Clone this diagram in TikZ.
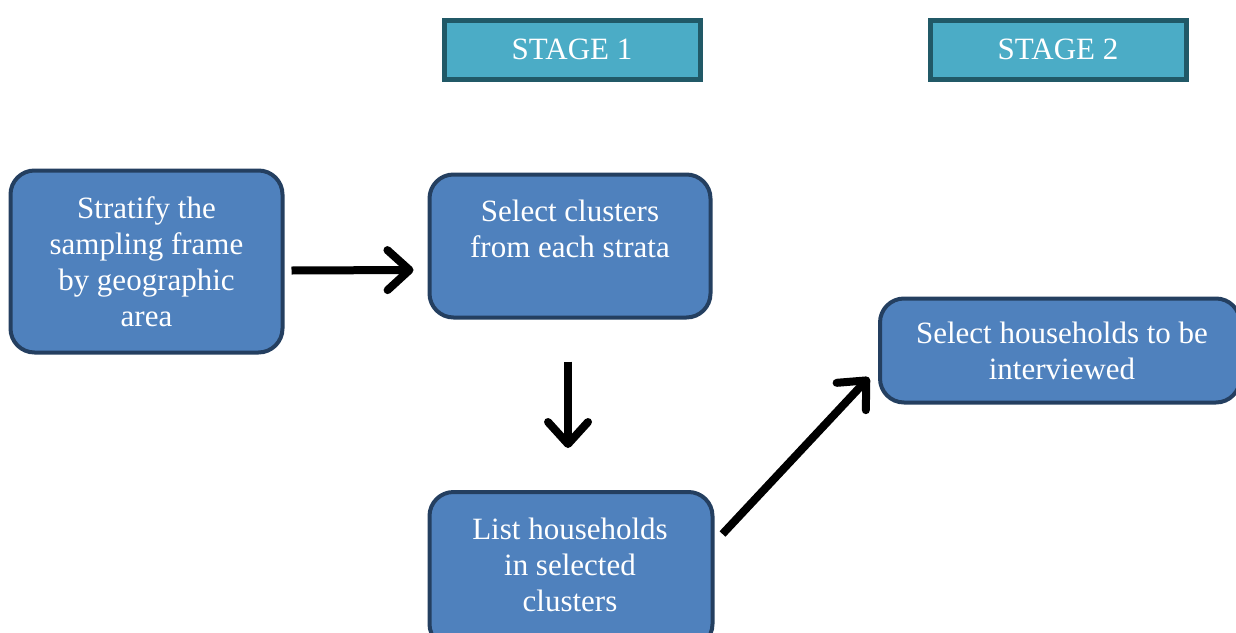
\documentclass[tikz,border=0pt]{standalone}
\usepackage{fontspec}
\setmainfont{Liberation Serif}
\usetikzlibrary{arrows.meta,calc}
\definecolor{boxfill}{HTML}{4F81BD}
\definecolor{boxline}{HTML}{243F60}
\definecolor{stagefill}{HTML}{4BACC6}
\definecolor{stageline}{HTML}{215967}
\tikzset{
  procbox/.style={draw=boxline, fill=boxfill, line width=4pt, rounded corners=24pt, inner sep=0pt},
  stagebox/.style={draw=stageline, fill=stagefill, line width=5pt, inner sep=0pt, minimum width=256pt, minimum height=59pt, text=white, font=\fontsize{31}{34}\selectfont},
  boxtext/.style={text=white, align=center, font=\fontsize{31}{36}\selectfont},
  arr/.style={line width=8pt, -{Straight Barb[length=22pt, width=40pt, line width=8pt, line cap=round, line join=round]}}
}
\begin{document}
\begin{tikzpicture}[x=1pt,y=-1pt]
\useasboundingbox (0,0) rectangle (1236,632);
\node[stagebox] (s1) at (572,49.5) {STAGE 1};
\node[stagebox] (s2) at (1058,49.5) {STAGE 2};
\node[procbox, minimum width=272pt, minimum height=182pt] (a) at (146.5,261.5) {};
\node[boxtext] (at) at (146.5,262) {Stratify the\\sampling frame\\by geographic\\area};
\node[procbox, minimum width=281pt, minimum height=143pt] (b) at (570,246) {};
\node[boxtext] (bt) at (570,229) {Select clusters\\from each strata};
\node[procbox, minimum width=283pt, minimum height=156pt] (c) at (571,570) {};
\node[boxtext] (ct) at (570,565) {List households\\in selected\\clusters};
\node[procbox, minimum width=360pt, minimum height=104pt] (d) at (1060,350.5) {};
\node[boxtext] (dt) at (1062,351) {Select households to be\\interviewed};
\draw[arr] ($(a.east)+(7,9)$) -- ($(b.west)+(-14,24)$);
\draw[arr] ($(b.south)+(-2,42)$) -- ($(c.north)+(-3,-42)$);
\draw[arr] ($(c.east)+(8,-36)$) -- ($(d.west)+(-9,27)$);
\end{tikzpicture}
\end{document}
